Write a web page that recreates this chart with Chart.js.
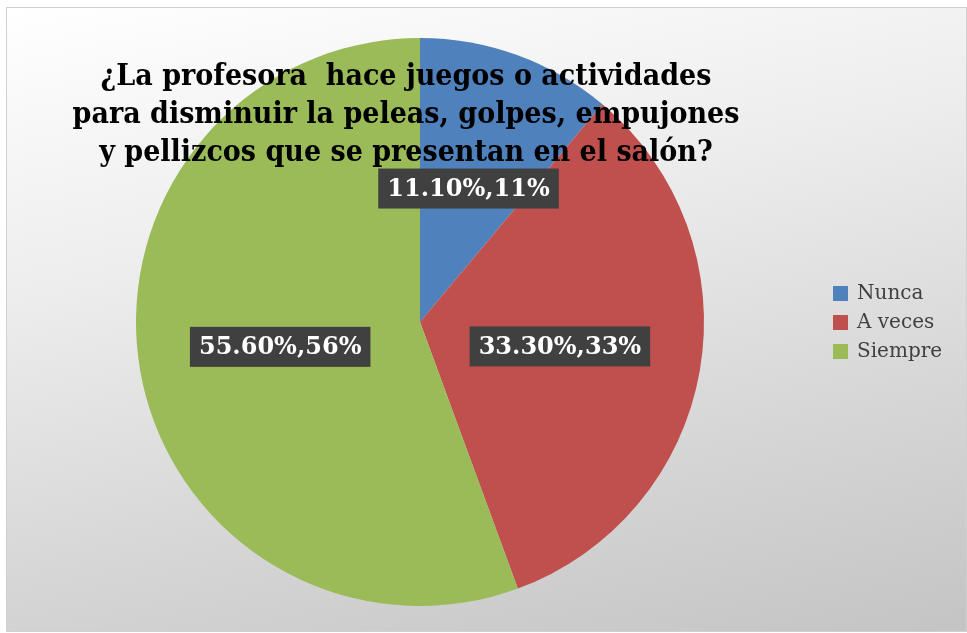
<!DOCTYPE html>
<html>
<head>
<meta charset="utf-8">
<script src="https://cdn.jsdelivr.net/npm/chart.js@4.4.0/dist/chart.umd.min.js"></script>
<style>
  html, body { margin: 0; padding: 0; background: #fff; }
  #frame {
    position: absolute; left: 6px; top: 7px; width: 959px; height: 623px;
    border: 1px solid #d0d0d0;
    background: linear-gradient(168deg, #ffffff 0%, #ededed 35%, #d6d6d6 70%, #c4c4c4 100%);
  }
  #chartLite { position: absolute; left: 0; top: 0; }
</style>
</head>
<body>
<div id="frame"></div>
<canvas id="chartLite" width="967" height="633"></canvas>
<script>
const categories = ['Nunca', 'A veces', 'Siempre'];
const values = [11.1, 33.3, 55.6];
const rounded = ['11%', '33%', '56%'];
const colors = ['#4F81BD', '#C0504D', '#9BBB59'];
const titleLines = [
    '¿La profesora  hace juegos o actividades',
    'para disminuir la peleas, golpes, empujones',
    'y pellizcos que se presentan en el salón?'
];

const serif = '"DejaVu Serif", "Liberation Serif", serif';
const serifNarrow = '"DejaVu Serif Condensed", "DejaVu Serif", serif';

// labels in dark boxes, title on top of the pie, legend at right
const overlay = {
    id: 'overlay',
    afterDatasetsDraw(chart) {
        const c = chart.ctx;
        const meta = chart.getDatasetMeta(0);

        c.save();
        c.fillStyle = '#000';
        c.textAlign = 'center';
        c.textBaseline = 'middle';
        c.font = 'bold 30px ' + serifNarrow;
        titleLines.forEach((t, i) => {
            c.fillText(t, 406, 77 + i * 38);
        });

        c.font = 'bold 24px ' + serif;
        meta.data.forEach((arc, i) => {
            const p = arc.getCenterPoint();
            const txt = values[i].toFixed(2) + '%,' + rounded[i];
            const w = c.measureText(txt).width + 18;
            c.fillStyle = '#404040';
            c.fillRect(p.x - w / 2, p.y - 20, w, 40);
            c.fillStyle = '#fff';
            c.fillText(txt, p.x, p.y + 1);
        });

        c.font = '20px ' + serif;
        c.textAlign = 'left';
        categories.forEach((name, i) => {
            const y = 294 + i * 29;
            c.fillStyle = colors[i];
            c.fillRect(833, y - 8, 15, 15);
            c.fillStyle = '#404040';
            c.fillText(name, 857, y);
        });
        c.restore();
    }
};

const ctx = document.getElementById('chartLite').getContext('2d');
const myChart = new Chart(ctx, {
    type: 'pie',
    data: {
        labels: categories,
        datasets: [{
            data: values,
            backgroundColor: colors,
            borderWidth: 0
        }]
    },
    options: {
        responsive: false,
        animation: false,
        layout: {
            padding: { top: 38, bottom: 27, left: 136, right: 263 }
        },
        plugins: {
            legend: { display: false },
            tooltip: { enabled: false },
            title: { display: false }
        }
    },
    plugins: [overlay]
});
</script>
</body>
</html>
